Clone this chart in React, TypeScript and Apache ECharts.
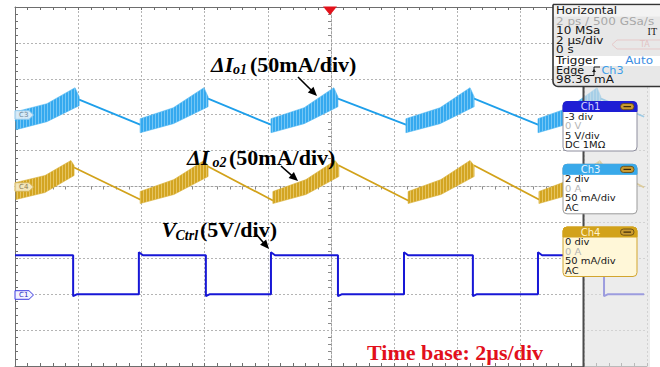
import React, { useEffect, useRef } from "react";
import * as echarts from "echarts";

// Time in µs (2 µs/div, trigger at 0 s). Channel values in their own units.
// Ch1 (V_Ctrl) in volts: 5 V/div, offset -3 div
const ch1Volts: number[][] = [
  [-10, 5.43], [-8.16, 5.43], [-8.16, -0.28], [-8.03, 0], [-6.08, 0], [-6.08, 5.85], [-5.95, 5.43],
  [-3.96, 5.43], [-3.96, -0.28], [-3.83, 0], [-1.9, 0], [-1.9, 5.85], [-1.77, 5.43],
  [0.22, 5.43], [0.22, -0.28], [0.35, 0], [2.31, 0], [2.31, 5.85], [2.44, 5.43],
  [4.49, 5.43], [4.49, -0.28], [4.62, 0], [6.55, 0], [6.55, 5.85], [6.68, 5.43],
  [8.64, 5.43], [8.64, -0.28], [8.77, 0], [9.91, 0],
];

// Ch3 (ΔIo1) in mA: 50 mA/div, offset +2 div
const ch3Trace: number[][] = [
  [-10, -8.4], [-7.97, 20.9], [-6.04, -13.9], [-3.89, 22.3], [-1.9, -13.9], [0.22, 22.3],
  [2.37, -13.9], [4.53, 22.3], [6.55, -13.9], [8.54, 22.3], [9.91, -2.8],
];
const ch3RippleUpper: number[][][] = [
  [[-9.97, 4.2], [-8.99, 15.3], [-8.1, 37.6], [-7.97, 25.1]],
  [[-6.04, -5.6], [-4.99, 9.7], [-4.02, 37.6], [-3.89, 25.1]],
  [[-1.9, -5.6], [-0.85, 9.7], [0.09, 37.6], [0.22, 25.1]],
  [[2.37, -5.6], [3.45, 9.7], [4.4, 37.6], [4.53, 25.1]],
  [[6.55, -5.6], [7.53, 9.7], [8.42, 37.6], [8.54, 25.1]],
];
const ch3RippleLower: number[][][] = [
  [[-9.97, -20.9], [-8.99, -9.7], [-7.97, 12.5]],
  [[-6.04, -25.1], [-4.99, -12.5], [-3.89, 11.1]],
  [[-1.9, -25.1], [-0.85, -12.5], [0.22, 11.1]],
  [[2.37, -25.1], [3.45, -12.5], [4.53, 11.1]],
  [[6.55, -25.1], [7.53, -12.5], [8.54, 11.1]],
];

// Ch4 (ΔIo2) in mA: 50 mA/div, offset 0 div
const ch4Trace: number[][] = [
  [-10, -5.6], [-8.13, 26.5], [-6.04, -18.1], [-3.89, 27.9], [-1.84, -19.5], [0.25, 29.2],
  [2.44, -19.5], [4.53, 29.2], [6.58, -18.1], [8.64, 27.9], [9.91, -1.4],
];
const ch4RippleUpper: number[][][] = [
  [[-9.97, 5.6], [-9.05, 15.3], [-8.23, 36.2], [-8.13, 29.2]],
  [[-6.04, -7.0], [-4.97, 9.7], [-4.02, 36.2], [-3.89, 29.2]],
  [[-1.84, -7.0], [-0.79, 9.7], [0.13, 36.2], [0.25, 29.2]],
  [[2.44, -7.0], [3.48, 9.7], [4.4, 36.2], [4.53, 29.2]],
  [[6.58, -7.0], [7.59, 9.7], [8.51, 36.2], [8.64, 29.2]],
];
const ch4RippleLower: number[][][] = [
  [[-9.97, -18.1], [-9.05, -8.4], [-8.13, 15.3]],
  [[-6.04, -23.7], [-4.97, -11.1], [-3.89, 13.9]],
  [[-1.84, -23.7], [-0.79, -11.1], [0.25, 13.9]],
  [[2.44, -23.7], [3.48, -11.1], [4.53, 13.9]],
  [[6.58, -23.7], [7.59, -11.1], [8.64, 13.9]],
];

const ch1Setup = { offset: -3, perDiv: 5 };
const ch3Setup = { offset: 2, perDiv: 50 };
const ch4Setup = { offset: 0, perDiv: 50 };

const horizontalLines = ["Horizontal", "2 ps / 500 GSa/s", "10 MSa", "2 µs/div", "0 s", "Trigger", "Edge", "98.36 mA"];
const ch1Lines = ["-3 div", "0 V", "5 V/div", "DC 1MΩ"];
const ch3Lines = ["2 div", "0 A", "50 mA/div", "AC"];
const ch4Lines = ["0 div", "0 A", "50 mA/div", "AC"];

const COL_CH1 = "#1717D6";
const COL_CH3 = "#1E9FEA";
const COL_CH4 = "#D2A21A";

// striped fill that stands in for the high-frequency switching ripple
function stripePattern(dark: string, light: string) {
  const svg =
    `<svg xmlns='http://www.w3.org/2000/svg' width='3' height='4'>` +
    `<rect width='3' height='4' fill='${light}'/>` +
    `<rect width='2' height='4' fill='${dark}'/></svg>`;
  return {
    image: "data:image/svg+xml;charset=utf-8," + encodeURIComponent(svg),
    repeat: "repeat",
    imageWidth: 3,
    imageHeight: 4,
  };
}

const toDiv = (v: number, s: { offset: number; perDiv: number }) => s.offset + v / s.perDiv;
const mapTrace = (arr: number[][], s: { offset: number; perDiv: number }) => arr.map((p) => [p[0], toDiv(p[1], s)]);

function rippleSeries(upper: number[][][], lower: number[][][], s: any, fill: any, edge: string) {
  return {
    type: "custom",
    xAxisIndex: 0,
    yAxisIndex: 0,
    z: 5,
    silent: true,
    clip: true,
    data: upper.map((seg, i) => [seg[0][0], toDiv(seg[0][1], s), i]),
    encode: { x: 0, y: 1 },
    renderItem: (_params: any, api: any) => {
      const i = api.value(2);
      const pts = [...upper[i], ...lower[i].slice().reverse()].map((p) => api.coord([p[0], toDiv(p[1], s)]));
      return {
        type: "polygon",
        shape: { points: pts },
        style: { fill, stroke: edge, lineWidth: 0.6 },
      };
    },
  };
}

const UI_FONT = '"DejaVu Sans", sans-serif';
const SERIF = '"Liberation Serif", "Times New Roman", serif';

function uiText(text: string, x: number, y: number, fill = "#151515", extra: any = {}, sx = 1) {
  return {
    type: "text",
    x,
    y,
    scaleX: sx,
    z: 120,
    silent: true,
    style: { text, font: `10px ${UI_FONT}`, lineHeight: 9, fill, verticalAlign: "middle", align: "left", ...extra },
  };
}

function channelBox(y0: number, title: string, header: string, headerText: string, body: string, border: string, lines: string[]) {
  const els: any[] = [
    { type: "rect", z: 110, silent: true, shape: { x: 563, y: y0, width: 74, height: 49.5, r: 4 }, style: { fill: body, stroke: border, lineWidth: 1 } },
    { type: "rect", z: 111, silent: true, shape: { x: 563, y: y0, width: 74, height: 10, r: [4, 4, 0, 0] }, style: { fill: header, stroke: header, lineWidth: 1 } },
    { type: "text", z: 112, silent: true, x: 590.5, y: y0 + 5.2, style: { text: title, font: `10px ${UI_FONT}`, lineHeight: 9, fill: headerText, align: "center", verticalAlign: "middle" } },
    { type: "rect", z: 112, silent: true, shape: { x: 620.5, y: y0 + 2, width: 13.5, height: 6.2, r: 3 }, style: { fill: "#C99A30", stroke: "#5C4210", lineWidth: 0.8 } },
    { type: "line", z: 113, silent: true, shape: { x1: 623.5, y1: y0 + 5.1, x2: 631, y2: y0 + 5.1 }, style: { stroke: "#3A2808", lineWidth: 1.2 } },
  ];
  const offs = [14.8, 24.3, 33.8, 43.3];
  lines.forEach((t, i) => {
    els.push(uiText(t, 565, y0 + offs[i], i === 1 ? "#B4B4B4" : "#151515", { font: `9.4px ${UI_FONT}`, lineHeight: 8.6 }, 1.06));
  });
  return els;
}

function leftMarker(y: number, label: string, fill: string, stroke: string, textColor: string) {
  return [
    {
      type: "polygon",
      z: 105,
      silent: true,
      shape: { points: [[15, y - 4.3], [29, y - 4.3], [33.5, y], [29, y + 4.3], [15, y + 4.3]] },
      style: { fill, stroke, lineWidth: 1 },
    },
    { type: "text", z: 106, silent: true, x: 19, y: y + 0.3, style: { text: label, font: `7px ${UI_FONT}`, lineHeight: 7, fill: textColor, verticalAlign: "middle" } },
  ];
}

function arrow(x1: number, y1: number, x2: number, y2: number) {
  const dx = x2 - x1;
  const dy = y2 - y1;
  const len = Math.hypot(dx, dy);
  const ux = dx / len;
  const uy = dy / len;
  const hl = 9;
  const hw = 4;
  const bx = x2 - ux * hl;
  const by = y2 - uy * hl;
  return [
    { type: "line", z: 120, silent: true, shape: { x1, y1, x2: bx + ux * 2, y2: by + uy * 2 }, style: { stroke: "#000", lineWidth: 1.6 } },
    {
      type: "polygon",
      z: 120,
      silent: true,
      shape: { points: [[x2, y2], [bx - uy * hw, by + ux * hw], [bx + uy * hw, by - ux * hw]] },
      style: { fill: "#000" },
    },
  ];
}

function label(text: string, x: number, y: number, size: number, italic: boolean, fill = "#000") {
  return {
    type: "text",
    z: 120,
    silent: true,
    x,
    y,
    style: { text, font: `${italic ? "italic " : ""}bold ${size}px ${SERIF}`, fill, verticalAlign: "middle", align: "left" },
  };
}

const axisGray = "#6E6E6E";
const gridStyle = { left: 15, top: 7, width: 632, height: 359 };
const HS = 1.2; // horizontal stretch of the scope's info-panel font

function buildOption(): any {
  const baseX = {
    type: "value",
    min: -10,
    max: 10,
    interval: 2,
    axisLabel: { show: false },
    axisTick: { show: true, inside: true, length: 3, lineStyle: { color: axisGray } },
    minorTick: { show: true, splitNumber: 5, length: 3, lineStyle: { color: axisGray } },
  };
  const baseY = {
    type: "value",
    min: -5,
    max: 5,
    interval: 1,
    axisLabel: { show: false },
    axisTick: { show: true, inside: true, length: 3, lineStyle: { color: axisGray } },
    minorTick: { show: true, splitNumber: 5, length: 3, lineStyle: { color: axisGray } },
  };

  const graphics: any[] = [
    // faded side panel
    { type: "rect", z: 100, silent: true, shape: { x: 584, y: 86, width: 66, height: 281 }, style: { fill: "rgba(226,226,226,0.66)" } },
    { type: "line", z: 101, silent: true, shape: { x1: 583.5, y1: 86, x2: 583.5, y2: 367 }, style: { stroke: "#4A4A4A", lineWidth: 2 } },
    // trigger position marker
    { type: "polygon", z: 101, silent: true, shape: { points: [[323, 6.5], [337, 6.5], [330, 15]] }, style: { fill: "#E3121B" } },
    // Horizontal box
    { type: "rect", z: 110, silent: true, shape: { x: 553, y: 4.5, width: 112, height: 82, r: [0, 0, 0, 5] }, style: { fill: "#E8E8E8", stroke: "#353535", lineWidth: 1.6 } },
    { type: "rect", z: 111, silent: true, shape: { x: 554, y: 5.5, width: 110, height: 11 }, style: { fill: "#F3F3F3" } },
    { type: "rect", z: 111, silent: true, shape: { x: 554, y: 56, width: 110, height: 10 }, style: { fill: "#FFFFFF" } },
    {
      type: "polygon",
      z: 111,
      silent: true,
      shape: { points: [[612, 44.5], [617, 40], [662, 40], [662, 49], [617, 49]] },
      style: { fill: "none", stroke: "#E6C9C9", lineWidth: 1 },
    },
    uiText("TA", 640, 44.8, "#E2C2C2", { font: `8px ${UI_FONT}`, lineHeight: 7 }),
    uiText(horizontalLines[0], 556, 11.3, "#151515", {}, HS),
    uiText(horizontalLines[1], 556, 21.5, "#A8A8A8", {}, HS),
    uiText(horizontalLines[2], 556, 31.3, "#151515", {}, HS),
    { type: "text", z: 120, silent: true, x: 657, y: 31.3, style: { text: "IT", font: `10px ${SERIF}`, lineHeight: 9, fill: "#151515", align: "right", verticalAlign: "middle" } },
    uiText(horizontalLines[3], 556, 40.8, "#151515", {}, HS),
    uiText(horizontalLines[4], 556, 50.2, "#151515", {}, HS),
    uiText(horizontalLines[5], 556, 60.8, "#151515", {}, HS),
    uiText("Auto", 653, 60.8, "#3A8CE2", { align: "right" }, HS),
    uiText(horizontalLines[6], 556, 71, "#151515", {}, 1.12),
    {
      type: "polyline",
      z: 120,
      silent: true,
      shape: { points: [[589, 75.5], [594, 75.5], [594, 67], [600, 67]] },
      style: { stroke: "#151515", lineWidth: 1, fill: "none" },
    },
    { type: "polygon", z: 120, silent: true, shape: { points: [[592, 72], [596, 72], [594, 69]] }, style: { fill: "#151515" } },
    uiText("Ch3", 601.5, 71, "#3A9DE8", {}, 1.12),
    uiText(horizontalLines[7], 556, 80.3, "#151515", {}, HS),
    ...channelBox(101.5, "Ch1", "#1E1ED4", "#D6D6FF", "#FFFFFF", "#8E8E9E", ch1Lines),
    ...channelBox(164.3, "Ch3", "#39A9EA", "#EAF6FF", "#FFFFFF", "#9A9A9A", ch3Lines),
    ...channelBox(227, "Ch4", "#D2A21A", "#FFF3D0", "#FFF7D8", "#D2A52E", ch4Lines),
    ...leftMarker(115, "C3", "rgba(232,240,247,0.88)", "#8CC8EE", "#6A8498"),
    ...leftMarker(187, "C4", "rgba(246,238,206,0.88)", "#D6B456", "#8A7A50"),
    ...leftMarker(295, "C1", "#F2F2FF", "#3A3AE0", "#2A2AC0"),
    // annotations
    label("ΔI", 211, 64, 22, true),
    label("o1", 233, 69.5, 14, true),
    label("(50mA/div)", 250, 64, 22, false),
    ...arrow(298, 77, 317, 96),
    label("ΔI", 187, 157, 22, true),
    label("o2", 212.5, 162.5, 14, true),
    label("(50mA/div)", 229, 157, 22, false),
    ...arrow(281, 166, 298, 181),
    label("V", 161.5, 229.5, 22, true),
    label("Ctrl", 175.5, 235, 14, true),
    label("(5V/div)", 200, 229.5, 22, false),
    ...arrow(256, 234, 269, 249),
    label("Time base: 2µs/div", 367, 352, 22, false, "#E2101B"),
  ];

  return {
    animation: false,
    backgroundColor: "#FFFFFF",
    grid: [
      { ...gridStyle },
      { ...gridStyle },
    ],
    xAxis: [
      {
        ...baseX,
        gridIndex: 0,
        position: "bottom",
        axisLine: { show: true, onZero: false, lineStyle: { color: axisGray, width: 1 } },
        splitLine: { show: true, lineStyle: { color: "#B4B4B4", type: [2, 2], width: 1 } },
      },
      {
        ...baseX,
        gridIndex: 0,
        position: "top",
        axisLine: { show: true, onZero: false, lineStyle: { color: axisGray, width: 1 } },
        splitLine: { show: false },
      },
      {
        ...baseX,
        gridIndex: 1,
        axisTick: { show: false },
        axisLine: { show: true, onZero: true, lineStyle: { color: "#A0A0A0", type: [2, 2], width: 1 } },
        minorTick: { show: true, splitNumber: 5, length: 3, lineStyle: { color: "#8A8A8A" } },
        splitLine: { show: false },
      },
    ],
    yAxis: [
      {
        ...baseY,
        gridIndex: 0,
        position: "left",
        axisLine: { show: true, onZero: false, lineStyle: { color: axisGray, width: 1 } },
        splitLine: { show: true, lineStyle: { color: "#B4B4B4", type: [2, 2], width: 1 } },
      },
      {
        ...baseY,
        gridIndex: 1,
        axisTick: { show: false },
        axisLine: { show: true, onZero: true, lineStyle: { color: "#A0A0A0", type: [2, 2], width: 1 } },
        minorTick: { show: true, splitNumber: 5, length: 3, lineStyle: { color: "#8A8A8A" } },
        splitLine: { show: false },
      },
    ],
    series: [
      {
        type: "line",
        xAxisIndex: 0,
        yAxisIndex: 0,
        z: 4,
        symbol: "none",
        silent: true,
        data: mapTrace(ch3Trace, ch3Setup),
        lineStyle: { color: COL_CH3, width: 1.8 },
      },
      rippleSeries(ch3RippleUpper, ch3RippleLower, ch3Setup, stripePattern("#35A9EF", "#74C6F5"), "#4FB7F2"),
      {
        type: "line",
        xAxisIndex: 0,
        yAxisIndex: 0,
        z: 4,
        symbol: "none",
        silent: true,
        data: mapTrace(ch4Trace, ch4Setup),
        lineStyle: { color: COL_CH4, width: 1.8 },
      },
      rippleSeries(ch4RippleUpper, ch4RippleLower, ch4Setup, stripePattern("#D3A522", "#E6C460"), "#D9B038"),
      {
        type: "line",
        xAxisIndex: 0,
        yAxisIndex: 0,
        z: 6,
        symbol: "none",
        silent: true,
        data: mapTrace(ch1Volts, ch1Setup),
        lineStyle: { color: COL_CH1, width: 2 },
      },
    ],
    graphic: { elements: graphics },
  };
}

export default function App() {
  const ref = useRef<HTMLDivElement>(null);
  useEffect(() => {
    if (!ref.current) return;
    const chart = echarts.init(ref.current, null, { renderer: "svg" });
    chart.setOption(buildOption());
    return () => chart.dispose();
  }, []);
  return <div ref={ref} style={{ position: "absolute", left: 0, top: 0, width: 660, height: 367 }} />;
}
